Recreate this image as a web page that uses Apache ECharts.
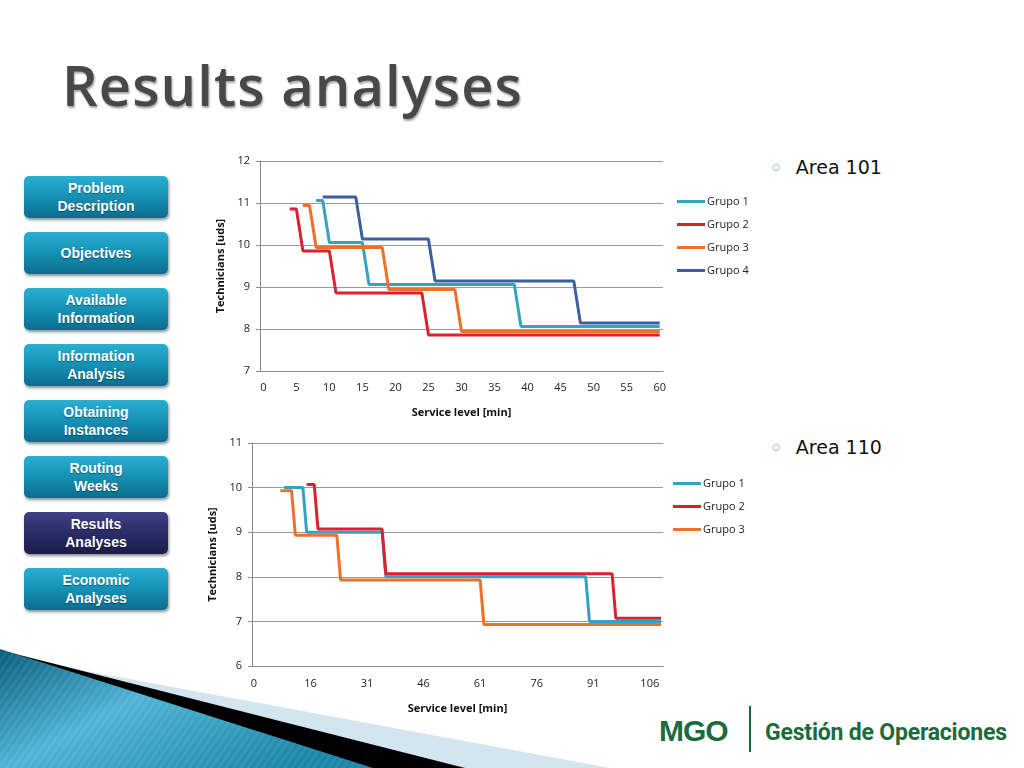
<!DOCTYPE html>
<html>
<head>
<meta charset="utf-8">
<script src="https://cdn.jsdelivr.net/npm/echarts@6/dist/echarts.min.js"></script>
<style>
  html, body { margin: 0; padding: 0; background: #fff; }
  #slide { position: relative; width: 1024px; height: 768px; overflow: hidden; background: #fff; }
  #deco { position: absolute; left: 0; top: 0; }
  #title { position: absolute; left: 62px; top: 46px; font-family: "Open Sans", sans-serif; font-size: 56px; font-weight: 600;
    color: #484848; letter-spacing: 1.1px; text-shadow: 1px 2px 2px rgba(0,0,0,0.35); white-space: nowrap; }
  .btn { position: absolute; left: 24px; width: 144px; height: 42px; border-radius: 5px;
    background: linear-gradient(#2ab0d2, #1590b4 50%, #0b6d8e);
    box-shadow: 1px 2px 3px rgba(0,0,0,0.45);
    color: #fff; font-family: "Liberation Sans", Arial, sans-serif; font-weight: bold; font-size: 14px;
    line-height: 18px; text-align: center; display: flex; align-items: center; justify-content: center;
    text-shadow: 0 1px 1px rgba(0,0,0,0.4); }
  .btn.on { background: linear-gradient(#3f4286, #2a2c66 50%, #1b1c4a); }
  .bullet { position: absolute; left: 772px; font-family: "DejaVu Sans", sans-serif; font-size: 19px; color: #111; }
  .bullet span { color: #3a9fbf; font-size: 9px; margin-right: 16px; position: relative; top: -4px; }
  #chart { position: absolute; left: 0; top: 0; width: 1024px; height: 768px; }
  #mgo { position: absolute; left: 659px; top: 714px; font-family: "Liberation Sans", Arial, sans-serif; font-weight: bold;
    font-size: 30px; color: #1d6b3d; letter-spacing: -1px; }
  #sep { position: absolute; left: 749px; top: 706px; width: 2px; height: 46px; background: #1d6b3d; }
  #gdo { position: absolute; left: 765px; top: 719px; font-family: "Liberation Sans Narrow", "Roboto", sans-serif; font-weight: bold;
    font-size: 23px; color: #1d6b3d; white-space: nowrap; letter-spacing: -0.2px; }
</style>
</head>
<body>
<div id="slide">
  <svg id="deco" width="1024" height="768">
    <defs>
      <linearGradient id="tg" x1="0" y1="0" x2="1" y2="0.6">
        <stop offset="0" stop-color="#0a5c7a"/>
        <stop offset="0.45" stop-color="#4fb4d4"/>
        <stop offset="1" stop-color="#1b86a8"/>
      </linearGradient>
      <pattern id="st" width="6" height="6" patternUnits="userSpaceOnUse" patternTransform="rotate(35)">
        <rect width="3" height="6" fill="rgba(255,255,255,0.06)"/>
      </pattern>
    </defs>
    <polygon points="0,655 610,768 0,768" fill="#d3e5ee"/>
    <polygon points="0,650 465,768 0,768" fill="#000"/>
    <polygon points="0,649 373,768 0,768" fill="url(#tg)"/>
    <polygon points="0,649 373,768 0,768" fill="url(#st)"/>
  </svg>

  <div id="title">Results analyses</div>

  <div class="btn" style="top:176px">Problem<br>Description</div>
  <div class="btn" style="top:232px">Objectives</div>
  <div class="btn" style="top:288px">Available<br>Information</div>
  <div class="btn" style="top:344px">Information<br>Analysis</div>
  <div class="btn" style="top:400px">Obtaining<br>Instances</div>
  <div class="btn" style="top:456px">Routing<br>Weeks</div>
  <div class="btn on" style="top:512px">Results<br>Analyses</div>
  <div class="btn" style="top:568px">Economic<br>Analyses</div>

  <div class="bullet" style="top:156px"><span>○</span>Area 101</div>
  <div class="bullet" style="top:436px"><span>○</span>Area 110</div>

  <div id="mgo">MGO</div>
  <div id="sep"></div>
  <div id="gdo">Gestión de Operaciones</div>

  <div id="chart"></div>
</div>
<script>
// Area 101 -- x = service level category index (0..60), y = technicians
var area101Names = ['Grupo 1', 'Grupo 2', 'Grupo 3', 'Grupo 4'];
var a101g1 = [[8, 11.06], [9, 11.06], [10, 10.06], [15, 10.06], [16, 9.06], [38, 9.06], [39, 8.06], [60, 8.06]];
var a101g2 = [[4, 10.86], [5, 10.86], [6, 9.86], [10, 9.86], [11, 8.86], [24, 8.86], [25, 7.86], [60, 7.86]];
var a101g3 = [[6, 10.94], [7, 10.94], [8, 9.94], [18, 9.94], [19, 8.94], [29, 8.94], [30, 7.94], [60, 7.94]];
var a101g4 = [[9, 11.14], [14, 11.14], [15, 10.14], [25, 10.14], [26, 9.14], [47, 9.14], [48, 8.14], [60, 8.14]];

// Area 110 -- x = category index (0..108), labelled every 15th
var area110Names = ['Grupo 1', 'Grupo 2', 'Grupo 3'];
var a110g1 = [[8, 10.0], [13, 10.0], [14, 9.0], [34, 9.0], [35, 8.0], [88, 8.0], [89, 7.0], [108, 7.0]];
var a110g2 = [[14, 10.07], [16, 10.07], [17, 9.07], [34, 9.07], [35, 8.07], [95, 8.07], [96, 7.07], [108, 7.07]];
var a110g3 = [[7, 9.93], [10, 9.93], [11, 8.93], [22, 8.93], [23, 7.93], [60, 7.93], [61, 6.93], [108, 6.93]];
var area110Ticks = ['0', '16', '31', '46', '61', '76', '91', '106'];

var colors = ['#35a2c1', '#d8232f', '#ee7129', '#3b5f9c'];

var cats101 = [];
for (var i = 0; i <= 60; i++) cats101.push(String(i));
var cats110 = [];
for (var j = 0; j <= 108; j++) cats110.push(String(j));

var font = '"Open Sans", sans-serif';
var lbl = { color: '#222', fontSize: 11, fontFamily: font };
var nameSty = { color: '#111', fontSize: 11, fontWeight: 'bold', fontFamily: font };

function yAxis(idx, min, max, gap) {
  return {
    type: 'value', gridIndex: idx, min: min, max: max, interval: 1,
    name: 'Technicians [uds]', nameLocation: 'middle', nameGap: gap, nameTextStyle: nameSty,
    axisLine: { show: true, lineStyle: { color: '#8a8a8a' } },
    axisTick: { show: true, length: 4, lineStyle: { color: '#8a8a8a' } },
    axisLabel: Object.assign({ margin: 10 }, lbl),
    splitLine: { lineStyle: { color: '#9a9a9a' } }
  };
}

function mk(name, data, c, xi) {
  return {
    name: name, type: 'line', xAxisIndex: xi, yAxisIndex: xi, data: data,
    showSymbol: false, symbol: 'none', lineStyle: { width: 3, color: colors[c] },
    itemStyle: { color: colors[c] }
  };
}

function legend(names, left, top) {
  return { data: names, orient: 'vertical', left: left, top: top, padding: 0, itemGap: 12, icon: 'rect',
    itemWidth: 28, itemHeight: 3, textStyle: { fontSize: 11, color: '#222', fontFamily: font, padding: [0, 0, 0, -3] } };
}

var chart = echarts.init(document.getElementById('chart'));
chart.setOption({
  animation: false,
  backgroundColor: 'transparent',
  color: colors,
  grid: [
    { left: 260, width: 403, top: 161, height: 210 },
    { left: 252, width: 411, top: 443, height: 223 }
  ],
  legend: [
    legend(area101Names, 677, 196),
    legend(area110Names.map(function (n) { return n + ' '; }), 673, 478)
  ],
  xAxis: [
    { type: 'category', gridIndex: 0, data: cats101, boundaryGap: true,
      name: 'Service level [min]', nameLocation: 'middle', nameGap: 36, nameTextStyle: nameSty,
      axisLine: { show: true, lineStyle: { color: '#8a8a8a' } }, axisTick: { show: false },
      axisLabel: Object.assign({ interval: 4, margin: 11 }, lbl) },
    { type: 'category', gridIndex: 1, data: cats110, boundaryGap: true,
      name: 'Service level [min]', nameLocation: 'middle', nameGap: 37, nameTextStyle: nameSty,
      axisLine: { show: true, lineStyle: { color: '#8a8a8a' } }, axisTick: { show: false },
      axisLabel: Object.assign({ interval: 14, margin: 12,
        formatter: function (v, i) { return area110Ticks[i / 15] || ''; } }, lbl) }
  ],
  yAxis: [yAxis(0, 7, 12, 34), yAxis(1, 6, 11, 34)],
  series: [
    mk(area101Names[0], a101g1, 0, 0),
    mk(area101Names[1], a101g2, 1, 0),
    mk(area101Names[2], a101g3, 2, 0),
    mk(area101Names[3], a101g4, 3, 0),
    mk(area110Names[0] + ' ', a110g1, 0, 1),
    mk(area110Names[1] + ' ', a110g2, 1, 1),
    mk(area110Names[2] + ' ', a110g3, 2, 1)
  ]
});
</script>
</body>
</html>
